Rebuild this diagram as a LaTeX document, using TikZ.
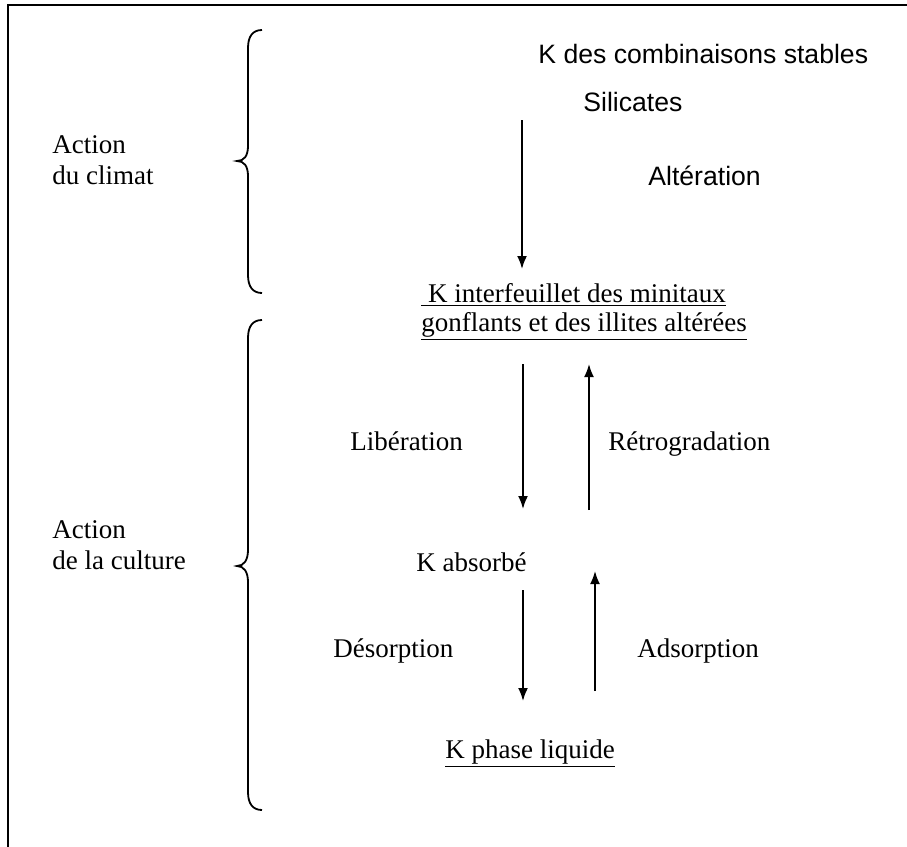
\documentclass[tikz,border=0pt]{standalone}
\usepackage{fontspec}
\setmainfont{Liberation Serif}
\newfontfamily\arialfont{Liberation Sans}
\usetikzlibrary{arrows.meta}

\begin{document}
\begin{tikzpicture}[x=0.5pt,y=-0.5pt]
	
	\tikzstyle{every node}=[font=\fontsize{13.5}{15.5}\selectfont, inner sep=0pt, anchor=base west]
	\tikzstyle{sans}=[font=\fontsize{13.3}{15.5}\selectfont\arialfont]
	\tikzstyle{fleche}=[line width=0.9pt, -{Latex[length=6.5pt,width=5pt]}]
	\tikzstyle{accolade}=[line width=0.9pt]
	
	\useasboundingbox (0,0) rectangle (907,847);
	
	% cadre
	\draw[line width=1pt] (907,5) -- (8,5) -- (8,847);
	
	% accolades
	\draw[accolade] (262,30) .. controls (253,30) and (248,36) .. (248,48) -- (248,146)
		.. controls (248,156) and (244,161) .. (237,161)
		.. controls (244,161) and (248,166) .. (248,176) -- (248,275)
		.. controls (248,287) and (253,293) .. (262,293);
	\draw[accolade] (262,320) .. controls (253,320) and (248,326) .. (248,338) -- (248,550)
		.. controls (248,560) and (244,566) .. (237,566)
		.. controls (244,566) and (248,572) .. (248,582) -- (248,792)
		.. controls (248,804) and (253,810) .. (262,810);
	
	\node (climat1) at (52,153) {Action};
	\node (climat2) at (52,184) {du climat};
	\node (culture1) at (52,538) {Action};
	\node (culture2) at (52,569) {de la culture};
	
	% partie haute
	\node[sans] (stables) at (538,63) {K des combinaisons stables};
	\node[sans] (silicates) at (583,111) {Silicates};
	\node[sans] (alteration) at (648,185) {Altération};
	
	\node (interf1) at (421,302) {\underline{\ K interfeuillet des minitaux}};
	\node (interf2) at (421,331) {\underline{gonflants et des illites altérées}};
	
	\node (liberation) at (350,450) {Libération};
	\node (retro) at (608,450) {Rétrogradation};
	\node (absorbe) at (416,571) {K absorbé};
	\node (desorption) at (333,657) {Désorption};
	\node (adsorption) at (637,657) {Adsorption};
	\node (liquide) at (445,758) {\underline{K phase liquide}};
	
	% fleches
	\coordinate (a1) at (522,120);
	\coordinate (b1) at (522,269);
	\coordinate (a2) at (523,364);
	\coordinate (b2) at (523,509);
	\coordinate (a3) at (589,510);
	\coordinate (b3) at (589,364);
	\coordinate (a4) at (523,590);
	\coordinate (b4) at (523,701);
	\coordinate (a5) at (595,691);
	\coordinate (b5) at (595,571);
	
	\draw[fleche] (a1) -- (b1);
	\draw[fleche] (a2) -- (b2);
	\draw[fleche] (a3) -- (b3);
	\draw[fleche] (a4) -- (b4);
	\draw[fleche] (a5) -- (b5);
	
\end{tikzpicture}
\end{document}
